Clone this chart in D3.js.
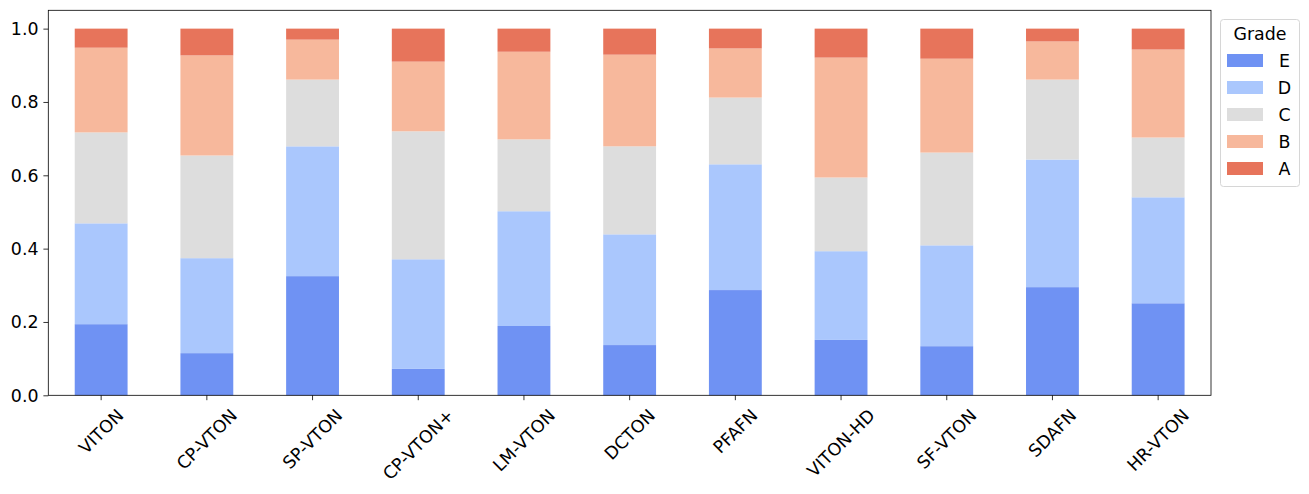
<!DOCTYPE html>
<html><head><meta charset="utf-8">
<script src="https://cdn.jsdelivr.net/npm/d3@7"></script>
<style>body{margin:0;background:#fff;} text{font-family:"DejaVu Sans",sans-serif;}</style>
</head><body><svg id="chart" width="1309" height="494"></svg>
<script>
const categories = ["VITON","CP-VTON","SP-VTON","CP-VTON+","LM-VTON","DCTON","PFAFN","VITON-HD","SF-VTON","SDAFN","HR-VTON"];
const grades = ["E","D","C","B","A"];
const E = [0.194,0.115,0.325,0.072,0.189,0.137,0.287,0.151,0.134,0.295,0.251];
const D = [0.275,0.259,0.354,0.299,0.313,0.302,0.343,0.242,0.275,0.348,0.289];
const C = [0.248,0.280,0.182,0.349,0.196,0.240,0.182,0.201,0.253,0.218,0.163];
const B = [0.231,0.273,0.109,0.190,0.239,0.250,0.134,0.327,0.256,0.104,0.240];
const A = [0.052,0.073,0.030,0.090,0.063,0.071,0.054,0.079,0.082,0.035,0.057];
const yTicks = [0.0,0.2,0.4,0.6,0.8,1.0];
const colors = ["#6f92f3","#aac7fd","#dddddd","#f7b89c","#e7745b"];

const series = {E,D,C,B,A};
const rows = categories.map((c,i)=>{const r={cat:c}; grades.forEach(g=>r[g]=series[g][i]); return r;});
const stack = d3.stack().keys(grades)(rows);

const svg = d3.select("#chart");
const L=48.3, R=1211, T=10.3, Bt=395.3;
const fs = 17.4;
const tl = 4.9, tp = 4.9;
const x = d3.scaleBand().domain(categories).range([L,R]).paddingInner(0.5).paddingOuter(0.25);
const y = d3.scaleLinear().domain([0,1.05]).range([Bt,T]);
const color = d3.scaleOrdinal().domain(grades).range(colors);

svg.append("g").selectAll("g").data(stack).join("g").attr("fill",d=>color(d.key))
  .selectAll("rect").data(d=>d).join("rect")
  .attr("x",d=>x(d.data.cat)).attr("width",x.bandwidth())
  .attr("y",d=>y(d[1])).attr("height",d=>y(d[0])-y(d[1]));

// y axis
const yAxis = svg.append("g").attr("transform",`translate(${L},0)`)
  .call(d3.axisLeft(y).tickValues(yTicks).tickFormat(d3.format(".1f")).tickSizeOuter(0).tickSize(tl).tickPadding(tp));
yAxis.select(".domain").remove();
yAxis.selectAll("line").attr("stroke","#000").attr("stroke-width",0.8);
yAxis.selectAll("text").attr("font-size",fs).attr("fill","#000").attr("font-family","DejaVu Sans")
  .attr("dy",null).attr("dominant-baseline","central");

// x axis
const xAxis = svg.append("g").attr("transform",`translate(0,${Bt})`)
  .call(d3.axisBottom(x).tickSizeOuter(0).tickSize(tl).tickPadding(tp));
xAxis.select(".domain").remove();
xAxis.selectAll("line").attr("stroke","#000").attr("stroke-width",0.8);
xAxis.selectAll("text").attr("font-size",fs).attr("fill","#000").attr("font-family","DejaVu Sans")
  .attr("dy",null).attr("y",null)
  .each(function(){
    const t=d3.select(this);
    const w=this.getComputedTextLength();
    const h=fs*1.17;
    const side=(w+h)/Math.SQRT2;
    const cy=tl+tp+side/2;
    t.attr("text-anchor","middle").attr("dominant-baseline","central")
     .attr("transform",`translate(0,${cy}) rotate(-45)`);
  });

// frame
svg.append("rect").attr("x",L).attr("y",T).attr("width",R-L).attr("height",Bt-T)
  .attr("fill","none").attr("stroke","#000").attr("stroke-width",0.8);

// legend
const lg = svg.append("g");
lg.append("rect").attr("x",1220.5).attr("y",19.5).attr("width",79).attr("height",167).attr("rx",3)
  .attr("fill","#fff").attr("fill-opacity",0.8).attr("stroke","#d6d6d6").attr("stroke-width",1);
lg.append("text").attr("x",1260).attr("y",34).attr("text-anchor","middle").attr("dominant-baseline","central")
  .attr("font-size",fs).attr("fill","#000").text("Grade");
grades.forEach((g,i)=>{
  const cy = 60.5 + i*27;
  lg.append("rect").attr("x",1227).attr("y",cy-6.5).attr("width",36).attr("height",13).attr("fill",color(g));
  lg.append("text").attr("x",1284.5).attr("y",cy).attr("text-anchor","middle").attr("dominant-baseline","central")
    .attr("font-size",fs).attr("fill","#000").text(g);
});
</script></body></html>
